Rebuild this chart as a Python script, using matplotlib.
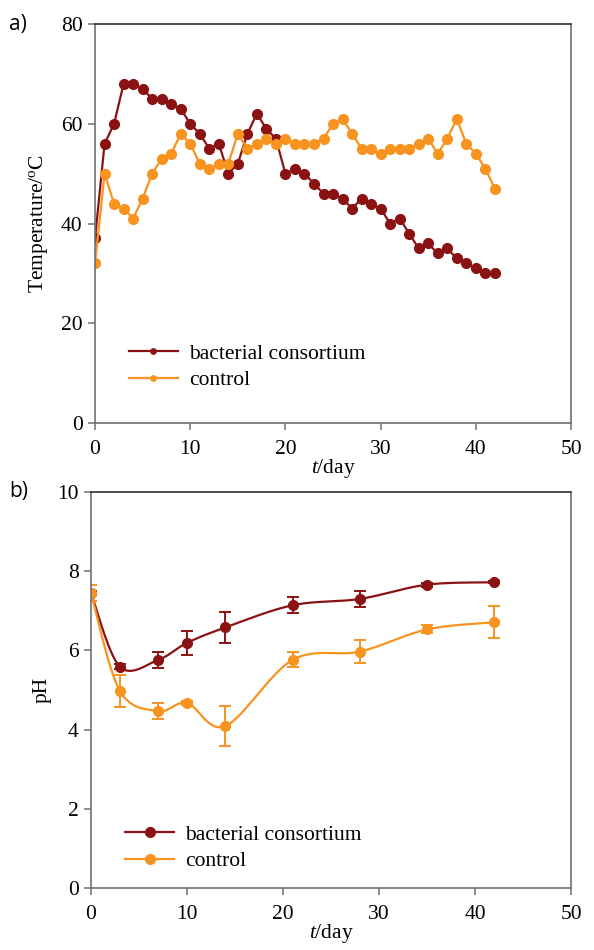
import numpy as np
import matplotlib.pyplot as plt

plt.rcParams['mathtext.fontset'] = 'custom'
plt.rcParams['mathtext.rm'] = 'Liberation Serif'
plt.rcParams['mathtext.it'] = 'Liberation Serif:italic'

# ---- panel a: temperature (daily) ----
days_temp = list(range(0, 43))
temp_bact = [37, 56, 60, 68, 68, 67, 65, 65, 64, 63, 60, 58, 55, 56, 50, 52,
             58, 62, 59, 57, 50, 51, 50, 48, 46, 46, 45, 43, 45, 44, 43, 40,
             41, 38, 35, 36, 34, 35, 33, 32, 31, 30, 30]
temp_ctrl = [32, 50, 44, 43, 41, 45, 50, 53, 54, 58, 56, 52, 51, 52, 52, 58,
             55, 56, 57, 56, 57, 56, 56, 56, 57, 60, 61, 58, 55, 55, 54, 55,
             55, 55, 56, 57, 54, 57, 61, 56, 54, 51, 47]

# ---- panel b: pH ----
days_ph = [0, 3, 7, 10, 14, 21, 28, 35, 42]
ph_bact = [7.45, 5.59, 5.76, 6.19, 6.58, 7.14, 7.30, 7.66, 7.72]
ph_bact_err = [0.05, 0.07, 0.20, 0.30, 0.40, 0.20, 0.20, 0.05, 0.03]
ph_ctrl = [7.45, 4.98, 4.47, 4.67, 4.09, 5.76, 5.97, 6.53, 6.71]
ph_ctrl_err = [0.20, 0.40, 0.20, 0.05, 0.50, 0.19, 0.30, 0.10, 0.40]

DARK_RED = '#8B1212'
ORANGE = '#F7931E'
SERIF = 'Liberation Serif'
FS = 15.5


def smooth_line(x, y, n=30):
    """Catmull-Rom style smoothing, similar to spreadsheet 'smoothed line'."""
    x = np.asarray(x, float)
    y = np.asarray(y, float)
    px = np.concatenate([[x[0]], x, [x[-1]]])
    py = np.concatenate([[y[0]], y, [y[-1]]])
    xs, ys = [], []
    t = np.linspace(0, 1, n)
    for i in range(1, len(px) - 2):
        p0, p1, p2, p3 = (np.array([px[j], py[j]]) for j in range(i - 1, i + 3))
        c1 = p1 + (p2 - p0) / 6.0
        c2 = p2 - (p3 - p1) / 6.0
        pts = ((1 - t) ** 3)[:, None] * p1 + (3 * (1 - t) ** 2 * t)[:, None] * c1 \
            + (3 * (1 - t) * t ** 2)[:, None] * c2 + (t ** 3)[:, None] * p2
        xs.append(pts[:, 0])
        ys.append(pts[:, 1])
    return np.concatenate(xs), np.concatenate(ys)


def style_axes(ax):
    for side in ['left', 'right', 'bottom']:
        ax.spines[side].set_color('#707070')
        ax.spines[side].set_linewidth(1.2)
    ax.spines['top'].set_color('#303030')
    ax.spines['top'].set_linewidth(1.2)
    ax.tick_params(direction='out', length=5, width=1.1, color='#707070',
                   labelsize=FS, top=False, right=False, pad=4)
    ax.tick_params(axis='x', pad=7.5)
    for lbl in ax.get_xticklabels() + ax.get_yticklabels():
        lbl.set_fontfamily(SERIF)
    ax.set_xlim(0, 50)
    ax.set_xticks(range(0, 51, 10))


fig = plt.figure(figsize=(5.94, 9.5), dpi=100)

# panel a
ax1 = fig.add_axes([0.16, 0.5547, 0.8013, 0.42])
ax1.plot(days_temp, temp_bact, '-o', color=DARK_RED, lw=1.6, ms=7,
         label='bacterial consortium')
ax1.plot(days_temp, temp_ctrl, '-o', color=ORANGE, lw=1.6, ms=7,
         label='control')
ax1.set_ylim(0, 80)
ax1.set_yticks(range(0, 81, 20))
style_axes(ax1)
ax1.set_ylabel('Temperature/$^{\\rm o}$C', fontfamily=SERIF, fontsize=FS,
               labelpad=8)
ax1.set_xlabel('$t$/day', fontfamily=SERIF, fontsize=FS, labelpad=-2)
ax1.legend(loc='lower left', bbox_to_anchor=(0.03, 0.033), frameon=False,
           prop={'family': SERIF, 'size': FS}, markerscale=0.55,
           handlelength=2.3, handletextpad=0.5, labelspacing=0.3)
fig.text(0.015, 0.968, 'a)', fontsize=15, fontfamily='Open Sans')

# panel b
ax2 = fig.add_axes([0.1532, 0.0653, 0.8081, 0.4168])
for ys, err, col, lab in [(ph_bact, ph_bact_err, DARK_RED, 'bacterial consortium'),
                          (ph_ctrl, ph_ctrl_err, ORANGE, 'control')]:
    sx, sy = smooth_line(days_ph, ys)
    ax2.plot(sx, sy, '-', color=col, lw=1.6)
    ax2.errorbar(days_ph, ys, yerr=err, fmt='o', color=col, ms=7,
                 ecolor=col, elinewidth=1.4, capsize=4.5, capthick=1.4)
    ax2.plot([], [], '-o', color=col, lw=1.6, ms=7, label=lab)
ax2.set_ylim(0, 10)
ax2.set_yticks(range(0, 11, 2))
style_axes(ax2)
ax2.set_ylabel('pH', fontfamily=SERIF, fontsize=FS, labelpad=4)
ax2.set_xlabel('$t$/day', fontfamily=SERIF, fontsize=FS, labelpad=-2)
ax2.legend(loc='lower left', bbox_to_anchor=(0.03, -0.007), frameon=False,
           prop={'family': SERIF, 'size': FS}, markerscale=1.0,
           handlelength=2.3, handletextpad=0.5, labelspacing=0.3)
fig.text(0.015, 0.477, 'b)', fontsize=15, fontfamily='Open Sans')

fig.savefig('out.png', dpi=100)
